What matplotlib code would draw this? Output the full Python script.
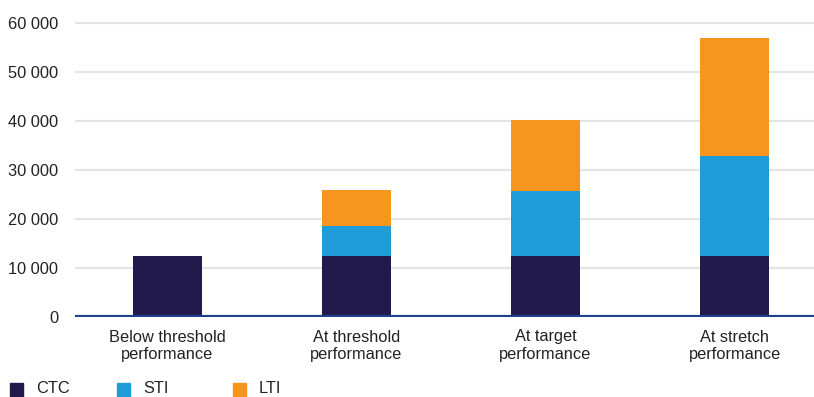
import matplotlib
matplotlib.use("Agg")
import matplotlib.pyplot as plt
from matplotlib.patches import Rectangle
from matplotlib.ticker import FuncFormatter
import numpy as np

plt.rcParams["font.family"] = ["Liberation Sans", "DejaVu Sans"]

# data
categories = ["Below threshold\nperformance", "At threshold\nperformance",
              "At target\nperformance", "At stretch\nperformance"]
series_names = ["CTC", "STI", "LTI"]
ctc = [12400, 12400, 12400, 12400]
sti = [0, 6100, 13300, 20400]
lti = [0, 7400, 14500, 24100]
colors = ["#211a4a", "#209cd8", "#f7961f"]
yticks = [0, 10000, 20000, 30000, 40000, 50000, 60000]

W, H = 814, 397
fig = plt.figure(figsize=(W / 100, H / 100), dpi=100)
ax = fig.add_axes([75 / W, (H - 317) / H, 1 - 75 / W, (317 - 18) / H])

x = np.arange(len(categories))
bw = 0.365
bottom = np.zeros(len(categories))
for vals, col in zip([ctc, sti, lti], colors):
    ax.bar(x, vals, bw, bottom=bottom, color=col, zorder=3)
    bottom += np.array(vals)

ax.set_xlim(-0.487, 3.42)
ax.set_ylim(0, 61000)
ax.set_yticks(yticks)
ax.yaxis.set_major_formatter(FuncFormatter(lambda v, p: f"{int(v):,}".replace(",", " ")))
ax.grid(axis="y", color="#e4e4e4", linewidth=1.6, zorder=0)
ax.axhline(0, color="#1f3f8f", linewidth=3, zorder=4)
for s in ax.spines.values():
    s.set_visible(False)
ax.tick_params(axis="y", length=0, pad=12, labelsize=11.8, labelcolor="#222222")
ax.tick_params(axis="x", length=0, pad=9, labelsize=11.8, labelcolor="#222222")
ax.set_xticks(x)
ax.set_xticklabels(categories, linespacing=1.2)

# legend along the bottom edge
sq_x = [10, 117, 233]
for name, col, x0 in zip(series_names, colors, sq_x):
    fig.add_artist(Rectangle((x0 / W, 0), 13 / W, 14 / H, transform=fig.transFigure,
                             color=col, clip_on=False))
    fig.text((x0 + 26) / W, 1 / H, name, fontsize=11.8, color="#222222", va="bottom")

fig.savefig("out.png", dpi=100)
